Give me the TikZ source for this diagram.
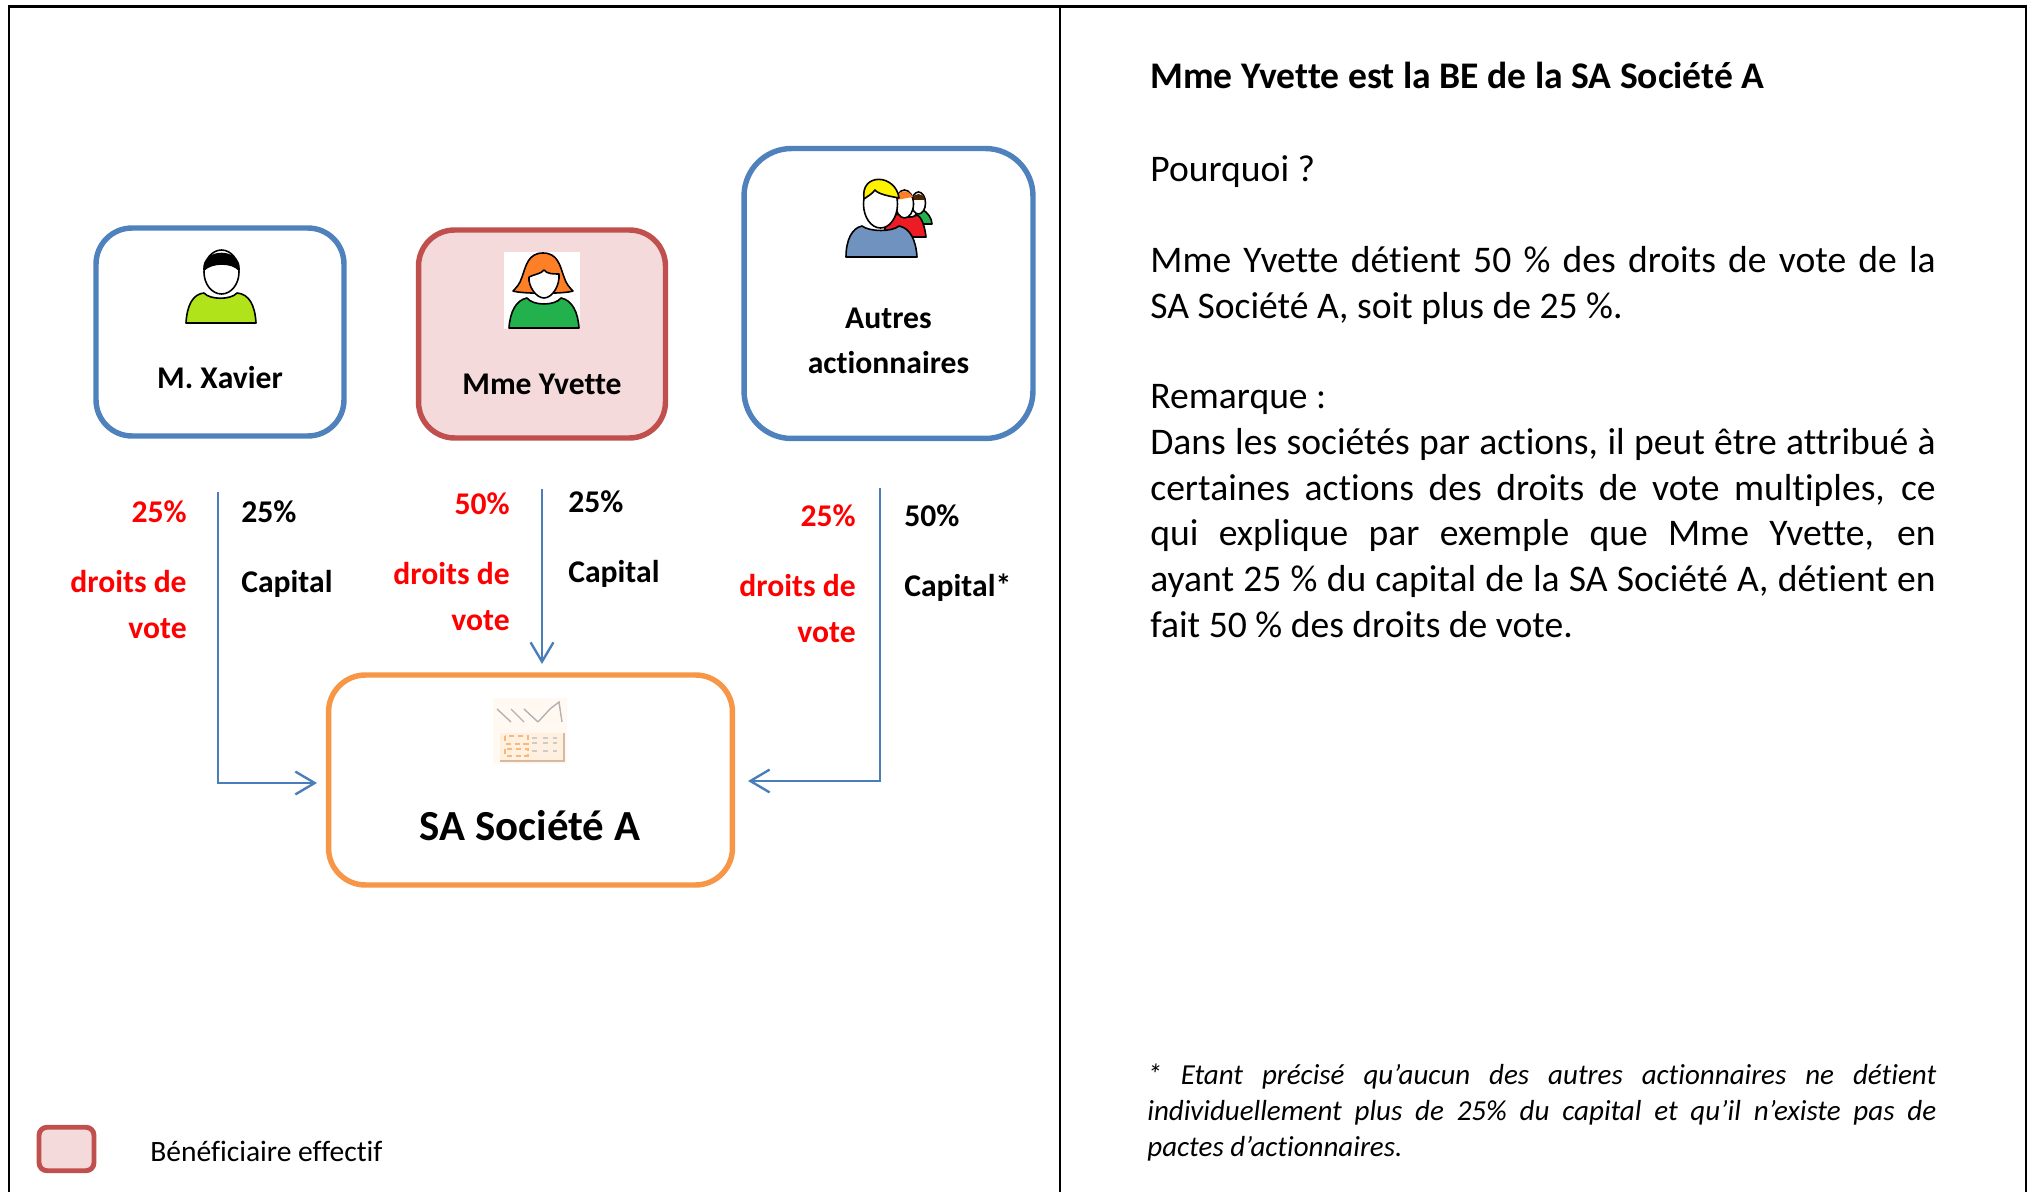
\documentclass[tikz,border=0pt]{standalone}
\usepackage{fontspec}
\setmainfont{Carlito}[Ligatures=NoCommon,Contextuals=NoAlternate]
\usetikzlibrary{arrows.meta}
\definecolor{boxblue}{HTML}{4F81BD}
\definecolor{boxred}{HTML}{C0504D}
\definecolor{boxpink}{HTML}{F4DADA}
\definecolor{boxorange}{HTML}{F79646}
\definecolor{flowblue}{HTML}{4A7EBB}
\definecolor{votered}{HTML}{FF0000}
\definecolor{shirtlime}{HTML}{B0E31A}
\definecolor{shirtgreen}{HTML}{22B14C}
\definecolor{shirtred}{HTML}{ED1C24}
\definecolor{shirtblue}{HTML}{7092BE}
\definecolor{hairorange}{HTML}{FF7F27}
\definecolor{hairyellow}{HTML}{FFF200}
\tikzset{
  holder/.style={draw, rounded corners=#1, line width=3.1pt, inner sep=0pt},
  flow/.style={draw=flowblue, line width=1.35pt, -{Straight Barb[length=11pt,width=13pt,line width=1.35pt]}},
  boxlabel/.style={font=\fontsize{18}{26}\selectfont\bfseries, align=center, inner sep=0pt},
  votelabel/.style={boxlabel, text=votered, align=right, anchor=north east},
  capitallabel/.style={boxlabel, align=left, anchor=north west},
  bodytext/.style={font=\fontsize{21.4}{26}\selectfont, inner sep=0pt, anchor=north west},
  bodypar/.style={bodytext, text width=447pt, align=justify},
  noteline/.style={font=\fontsize{16.5}{20.3}\selectfont\itshape, inner sep=0pt, anchor=north west, text width=449pt, align=justify},
  iconline/.style={draw=black, line width=0.9pt, line join=round},
}
\begin{document}
\begin{tikzpicture}[x=0.02cm, y=0.02cm]
  \useasboundingbox (0,0) rectangle (2029,-1192);
  % frame
  \draw [black, line width=1.4pt] (9,-1192) -- (9,-6.5) -- (2026,-6.5) -- (2026,-1192);
  \draw [black, line width=1.4pt] (1060,-6.5) -- (1060,-1192);
  % holders
  \node [holder=20.5pt, draw=boxblue, minimum width=4.96cm, minimum height=4.16cm] (xavier) at (220,-332) {};
  \node [holder=20.5pt, draw=boxred, fill=boxpink, minimum width=4.94cm, minimum height=4.16cm] (yvette) at (542,-334) {};
  \node [holder=27pt, draw=boxblue, minimum width=5.78cm, minimum height=5.8cm] (autres) at (888.5,-293.5) {};
  \node [holder=21pt, draw=boxorange, minimum width=8.08cm, minimum height=4.2cm] (societe) at (530.5,-780) {};
  \node [boxlabel] (xavierlabel) at (220,-378) {M. Xavier};
  \node [boxlabel] (yvettelabel) at (542,-384) {Mme Yvette};
  \node [boxlabel] (autreslabel) at (888.5,-341) {Autres\\actionnaires};
  \node [boxlabel, font=\fontsize{24.4}{28}\selectfont\bfseries] (societelabel) at (530,-826) {SA Société A};
  % M. Xavier icon
  \filldraw [iconline, fill=white] (221.5,-272) ellipse (17.5 and 22);
  \filldraw [iconline, fill=black] (204,-270) .. controls (202,-248) and (241,-248) .. (239,-270) .. controls (232,-262) and (212,-262) .. (204,-270);
  \filldraw [iconline, fill=shirtlime] (186,-323) .. controls (187,-305) and (193,-294) .. (204,-293) .. controls (210,-300) and (231,-300) .. (237,-293) .. controls (249,-294) and (255,-305) .. (256,-323) -- cycle;
  % Mme Yvette icon
  \fill [white] (504,-252) rectangle (580,-329);
  \filldraw [iconline, fill=hairorange] (543,-253) .. controls (528,-253) and (526,-266) .. (522,-277) .. controls (520,-284) and (516,-288) .. (513,-291) .. controls (522,-294) and (565,-294) .. (573,-291) .. controls (570,-288) and (566,-284) .. (564,-277) .. controls (560,-266) and (558,-253) .. (543,-253);
  \filldraw [iconline, fill=white] (529,-277) .. controls (535,-274) and (541,-274) .. (544,-270) .. controls (547,-274) and (553,-274) .. (559,-274) .. controls (560,-286) and (552,-298) .. (544,-298) .. controls (536,-298) and (528,-286) .. (529,-277);
  \filldraw [iconline, fill=shirtgreen] (509,-328) .. controls (510,-312) and (516,-300) .. (527,-298) .. controls (533,-306) and (555,-306) .. (561,-298) .. controls (572,-300) and (578,-312) .. (579,-328) -- cycle;
  % Autres actionnaires icon
  \filldraw [iconline, fill=shirtgreen] (905,-220) .. controls (912,-222) and (918,-210) .. (923,-210) .. controls (927,-212) and (932,-218) .. (932,-224) -- (905,-224) -- cycle;
  \filldraw [iconline, fill=white] (918.5,-203) ellipse (7 and 11);
  \fill [black!70!orange] (912,-200) .. controls (913,-192) and (924,-192) .. (925,-200) -- cycle;
  \filldraw [iconline, fill=shirtred] (883,-237) .. controls (885,-222) and (892,-216) .. (898,-214) .. controls (905,-218) and (913,-218) .. (917,-215) .. controls (922,-217) and (925,-228) .. (926,-237) -- cycle;
  \filldraw [iconline, fill=white] (904.5,-204) ellipse (9 and 14);
  \fill [hairorange] (896,-200) .. controls (897,-190) and (908,-188) .. (913,-197) -- cycle;
  \filldraw [iconline, fill=shirtblue] (846,-257) .. controls (846,-240) and (852,-228) .. (862,-226) .. controls (870,-232) and (892,-232) .. (899,-226) .. controls (910,-228) and (916,-240) .. (917,-257) -- cycle;
  \filldraw [iconline, fill=white] (880.5,-204) ellipse (17 and 24);
  \filldraw [iconline, fill=hairyellow] (864,-199) .. controls (860,-172) and (896,-174) .. (899,-198) .. controls (888,-196) and (878,-194) .. (875,-190) .. controls (872,-194) and (868,-196) .. (864,-199);
  % factory icon
  \fill [orange!5] (493,-698) rectangle (567,-764);
  \draw [gray!60, line width=0.8pt] (497,-709) -- (511,-722) (511,-709) -- (524,-722) (524,-709) -- (538,-722) (538,-722) -- (550,-709) -- (559,-702) -- (562,-722);
  \fill [orange!12] (500,-733) rectangle (564,-761);
  \draw [boxorange!50!gray!60, line width=0.8pt] (564,-733) -- (564,-761) -- (500,-761);
  \draw [boxorange!70, line width=0.8pt, densely dashed] (505,-736) rectangle (528,-744) (505,-749) rectangle (528,-756);
  \draw [gray!40, line width=0.8pt, dashed] (532,-738) -- (557,-738) (532,-743) -- (557,-743) (532,-751) -- (557,-751);
  % flows
  \coordinate (xavierstart) at (218,-492);
  \coordinate (xavierend) at (317,-783);
  \coordinate (yvettestart) at (542,-489);
  \coordinate (yvetteend) at (542,-664);
  \coordinate (autresstart) at (880,-488);
  \coordinate (autresend) at (748,-781);
  \draw [flow] (xavierstart) |- (xavierend);
  \draw [flow] (yvettestart) -- (yvetteend);
  \draw [flow] (autresstart) |- (autresend);
  % percentages
  \node [votelabel] (xaviervote) at (187,-500) {25\%\\[14pt]droits de\\vote};
  \node [capitallabel] (xaviercapital) at (241,-500) {25\%\\[14pt]Capital};
  \node [votelabel] (yvettevote) at (510,-492) {50\%\\[14pt]droits de\\vote};
  \node [capitallabel] (yvettecapital) at (568,-490) {25\%\\[14pt]Capital};
  \node [votelabel] (autresvote) at (856,-504) {25\%\\[14pt]droits de\\vote};
  \node [capitallabel] (autrescapital) at (904,-504) {50\%\\[14pt]Capital*};
  % legend
  \node [holder=4.6pt, draw=boxred, fill=boxpink, line width=2.8pt, minimum width=1.1cm, minimum height=0.87cm] (legendbox) at (66.5,-1149) {};
  \node [font=\fontsize{16.8}{19}\selectfont, inner sep=0pt, anchor=west] (legendtext) at (150,-1151) {Bénéficiaire effectif};
  % right column
  \node [bodytext, font=\fontsize{21.4}{26}\selectfont\bfseries] (titre) at (1150,-62) {Mme Yvette est la BE de la SA Société A};
  \node [bodytext] (pourquoi) at (1150,-155) {Pourquoi ?};
  \node [bodypar] (reponse) at (1150,-246) {Mme Yvette détient 50 \% des droits de vote de la\linebreak SA Société A, soit plus de 25 \%.};
  \node [bodytext] (remarque) at (1150,-384) {Remarque :};
  \node [bodypar] (detail) at (1150,-428) {Dans les sociétés par actions, il peut être attribué à\linebreak certaines actions des droits de vote multiples, ce\linebreak qui explique par exemple que Mme Yvette, en\linebreak ayant 25 \% du capital de la SA Société A, détient en\linebreak fait 50 \% des droits de vote.};
  \node [noteline] (note) at (1147,-1064) {* Etant précisé qu’aucun des autres actionnaires ne détient\linebreak individuellement plus de 25\% du capital et qu’il n’existe pas de\linebreak pactes d’actionnaires.};
\end{tikzpicture}
\end{document}
